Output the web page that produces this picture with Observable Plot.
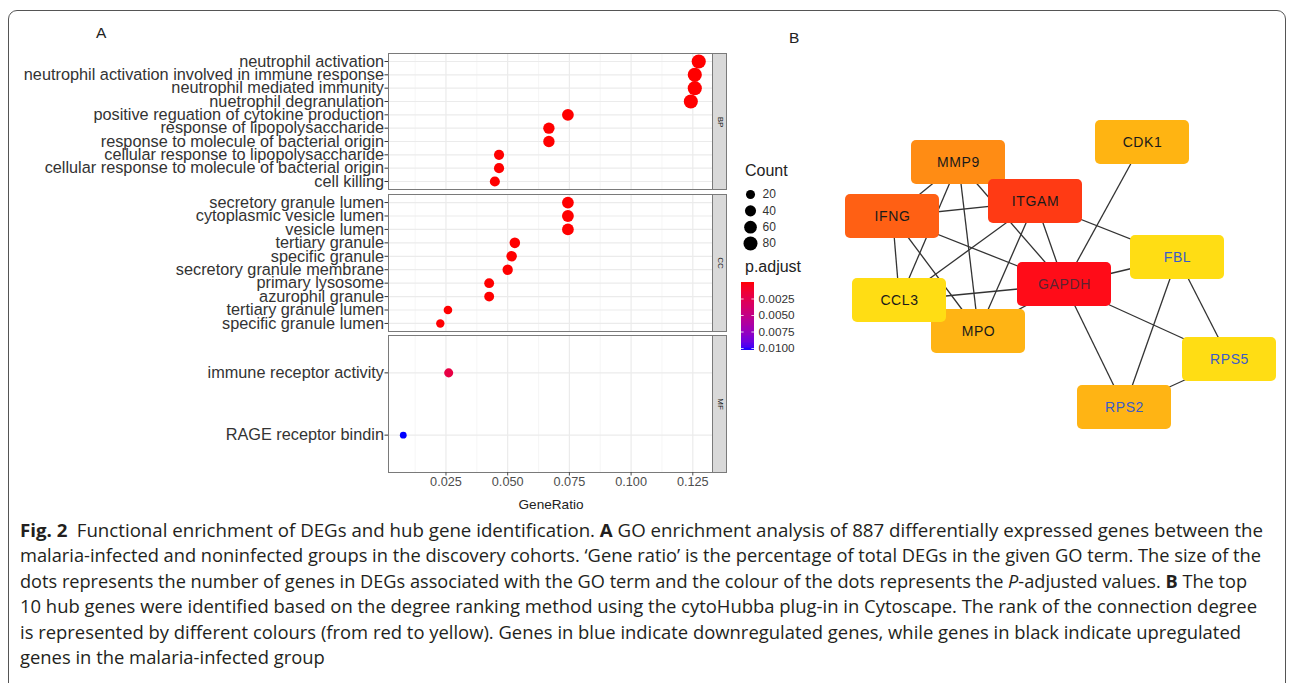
<!DOCTYPE html>
<html><head><meta charset="utf-8">
<script src="https://cdn.jsdelivr.net/npm/d3@7"></script>
<script src="https://cdn.jsdelivr.net/npm/@observablehq/plot@0.6"></script>
<style>
html,body{margin:0;padding:0;background:#fff;}
body{width:1295px;height:683px;overflow:hidden;position:relative;font-family:"Liberation Sans",Arial,sans-serif;color:#222;}
#box{position:absolute;left:8px;top:10px;width:1278px;height:720px;border:1px solid #555;border-radius:9px;box-sizing:border-box;}
.abs{position:absolute;}
.abs svg{display:block;max-width:none;}
.strip{position:absolute;background:#d9d9d9;border:1px solid #7a7a7a;box-sizing:border-box;}
.strip span{position:absolute;left:50%;top:50%;transform:translate(-50%,-50%) rotate(90deg);font-size:8px;color:#1a1a1a;white-space:nowrap;}
.lbl{position:absolute;white-space:nowrap;line-height:1;}
#caption{position:absolute;left:20px;top:518px;font-family:"Open Sans","Noto Sans",sans-serif;font-size:18px;line-height:25.4px;color:#231f20;}
#caption .ln{white-space:nowrap;width:max-content;transform-origin:0 0;}
</style></head>
<body>
<div id="box"></div>
<div class="lbl" style="left:96px;top:25px;font-size:15.5px;">A</div>
<div class="lbl" style="left:789px;top:30px;font-size:15.5px;">B</div>
<div id="bp" class="abs" style="left:0;top:45px;"></div>
<div id="cc" class="abs" style="left:0;top:186px;"></div>
<div id="mf" class="abs" style="left:0;top:327px;"></div>
<div class="strip" style="left:712px;top:53px;width:15px;height:137px;"><span>BP</span></div>
<div class="strip" style="left:712px;top:194px;width:15px;height:138px;"><span>CC</span></div>
<div class="strip" style="left:712px;top:335px;width:15px;height:138px;"><span>MF</span></div>
<div class="lbl" style="left:745px;top:163px;font-size:16px;">Count</div>
<div id="countLegend" class="abs" style="left:735px;top:184px;"></div>
<div class="lbl" style="left:745px;top:259px;font-size:16px;">p.adjust</div>
<div id="colorLegend" class="abs" style="left:735px;top:276px;"></div>
<div id="net" class="abs" style="left:830px;top:100px;"></div>
<div id="caption">
<div class="ln" data-w="1243"><b>Fig. 2</b>&ensp;Functional enrichment of DEGs and hub gene identification. <b>A</b> GO enrichment analysis of 887 differentially expressed genes between the</div>
<div class="ln" data-w="1241">malaria-infected and noninfected groups in the discovery cohorts. ‘Gene ratio’ is the percentage of total DEGs in the given GO term. The size of the</div>
<div class="ln" data-w="1227">dots represents the number of genes in DEGs associated with the GO term and the colour of the dots represents the <i>P</i>-adjusted values. <b>B</b> The top</div>
<div class="ln" data-w="1237">10 hub genes were identified based on the degree ranking method using the cytoHubba plug-in in Cytoscape. The rank of the connection degree</div>
<div class="ln" data-w="1221">is represented by different colours (from red to yellow). Genes in blue indicate downregulated genes, while genes in black indicate upregulated</div>
<div class="ln">genes in the malaria-infected group</div>
</div>
<script>
// ---------- Panel A data ----------
const bpTerms = ["neutrophil activation","neutrophil activation involved in immune response","neutrophil mediated immunity","nuetrophil degranulation","positive reguation of cytokine production","response of lipopolysaccharide","response to molecule of bacterial origin","cellular response to lipopolysaccharide","cellular response to molecule of bacterial origin","cell killing"];
const bpRatio = [0.1274,0.1258,0.1258,0.1242,0.0744,0.0667,0.0667,0.0465,0.0465,0.0448];
const bpCount = [83,82,82,81,48,43,43,30,30,29];
const bpPadj  = [1e-12,1e-12,1e-12,1e-12,2e-8,5e-8,5e-8,3e-6,3e-6,5e-6];

const ccTerms = ["secretory granule lumen","cytoplasmic vesicle lumen","vesicle lumen","tertiary granule","specific granule","secretory granule membrane","primary lysosome","azurophil granule","tertiary granule lumen","specific granule lumen"];
const ccRatio = [0.0744,0.0744,0.0744,0.0529,0.0516,0.0500,0.0425,0.0425,0.0258,0.0227];
const ccCount = [48,48,48,34,33,32,27,27,17,15];
const ccPadj  = [1e-10,1e-10,1e-10,2e-8,3e-8,4e-8,1e-7,1e-7,2e-5,4e-5];

const mfTerms = ["immune receptor activity","RAGE receptor bindin"];
const mfRatio = [0.0261,0.0077];
const mfCount = [20,6];
const mfPadj  = [0.0021,0.0103];

const xMajor = [0.025,0.05,0.075,0.1,0.125];
const xMinor = [0.0125,0.0375,0.0625,0.0875,0.1125];
const countTicks = [20,40,60,80];
const padjTicks = [0.0025,0.005,0.0075,0.01];

// ---------- Panel B data ----------
const genes      = ["CDK1","MMP9","ITGAM","IFNG","FBL","GAPDH","MPO","CCL3","RPS5","RPS2"];
const geneX      = [312,128,205,62,347,234,148,69,399,294];
const geneY      = [42,62,101,116,157,184,231,200,259,307];
const geneFill   = ["#FFB412","#FF8C14","#FF3A14","#FF6014","#FFDD14","#FF0C18","#FFB414","#FFDD14","#FFDD14","#FFB414"];
const geneText   = ["#1a1a1a","#1a1a1a","#1a1a1a","#1a1a1a","#3B5BC8","#5e2330","#1a1a1a","#1a1a1a","#3B5BC8","#3B5BC8"];
const edgeFrom = ["CDK1","ITGAM","GAPDH","GAPDH","GAPDH","FBL","FBL","RPS2","GAPDH","GAPDH","IFNG","ITGAM","MMP9","ITGAM","ITGAM","MMP9","MMP9","MMP9","IFNG","IFNG","IFNG","MMP9","CCL3"];
const edgeTo   = ["GAPDH","FBL","FBL","RPS2","RPS5","RPS2","RPS5","RPS5","CCL3","MPO","GAPDH","GAPDH","GAPDH","CCL3","MPO","IFNG","CCL3","MPO","ITGAM","CCL3","MPO","ITGAM","MPO"];

// ---------- shared scales ----------
const allRatio = [...bpRatio,...ccRatio,...mfRatio];
const allCount = [...bpCount,...ccCount,...mfCount];
const allPadj = [...bpPadj,...ccPadj,...mfPadj];
const [rMin,rMax] = d3.extent(allRatio);
const pad = (rMax-rMin)*0.05;
const xDomain = [rMin-pad, rMax+pad];
const pExt = d3.extent(allPadj);
const colorScale = {type:"linear", domain:pExt, range:["red","blue"], interpolate:d3.interpolateLab};
const rScale = {type:"sqrt", domain:d3.extent(allCount), range:[3.4,7.1]};
const FONT = '"Liberation Sans", Arial, sans-serif';

function facet(terms, ratio, count, padj, height, withX){
  const rows = terms.map((t,i)=>({term:t, ratio:ratio[i], count:count[i], padj:padj[i]}));
  const marks = [
    Plot.ruleX(xMinor, {stroke:"#f2f2f2", strokeWidth:0.7}),
    Plot.ruleX(xMajor, {stroke:"#ebebeb", strokeWidth:1.2}),
    Plot.ruleY(terms, {stroke:"#ebebeb", strokeWidth:1.2}),
    Plot.frame({stroke:"#7a7a7a"}),
    Plot.axisY({tickSize:3.5, tickPadding:1, fontSize:16.3, color:"#333", label:null}),
    Plot.dot(rows, {x:"ratio", y:"term", r:"count", fill:"padj"})
  ];
  if (withX) {
    marks.push(Plot.axisX({ticks:xMajor, tickFormat:d3.format(".3f"), tickSize:3.5, tickPadding:1, fontSize:12.7, color:"#4d4d4d", label:null}));
    marks.push(Plot.text(["GeneRatio"], {text:d=>d, frameAnchor:"bottom", dy:36, fontSize:13.6, fill:"#222"}));
  }
  return Plot.plot({
    width:730, height, marginLeft:388, marginRight:17, marginTop:8, marginBottom: withX?38:8,
    x:{domain:xDomain, axis: withX ? undefined : null},
    y:{type:"point", domain:terms, padding:0.6, round:false},
    r:rScale, color:colorScale,
    style:{fontFamily:FONT, background:"transparent", overflow:"visible"},
    marks
  });
}
document.getElementById("bp").append(facet(bpTerms,bpRatio,bpCount,bpPadj,152,false));
document.getElementById("cc").append(facet(ccTerms,ccRatio,ccCount,ccPadj,153,false));
document.getElementById("mf").append(facet(mfTerms,mfRatio,mfCount,mfPadj,183,true));

// Count legend
document.getElementById("countLegend").append(Plot.plot({
  width:60, height:72, margin:0,
  y:{type:"point", domain:countTicks, range:[10,59], padding:0, round:false, axis:null},
  r:rScale,
  style:{fontFamily:FONT, background:"transparent", overflow:"visible"},
  marks:[
    Plot.dot(countTicks, {y:d=>d, r:d=>d, fill:"black", frameAnchor:"left", dx:15}),
    Plot.text(countTicks, {y:d=>d, text:d=>String(d), frameAnchor:"left", dx:27, textAnchor:"start", fontSize:12, fill:"#333"})
  ]
}));

// Colour bar legend
const nSlices = 40;
const step = (pExt[1]-pExt[0])/nSlices;
const slices = d3.range(nSlices).map(i => pExt[0] + i*step);
document.getElementById("colorLegend").append(Plot.plot({
  width:90, height:80, marginLeft:6, marginRight:71, marginTop:6, marginBottom:6,
  x:{domain:[0,1], axis:null},
  y:{domain:pExt, reverse:true, axis:null},
  color:colorScale,
  style:{fontFamily:FONT, background:"transparent", overflow:"visible"},
  marks:[
    Plot.rect(slices, {x1:()=>0, x2:()=>1, y1:d=>d, y2:d=>Math.min(d+step*1.6, pExt[1]), fill:d=>d+step/2, shapeRendering:"crispEdges"}),
    Plot.ruleY(padjTicks, {x1:()=>0, x2:()=>0.2, stroke:"white", strokeWidth:0.8}),
    Plot.ruleY(padjTicks, {x1:()=>0.8, x2:()=>1, stroke:"white", strokeWidth:0.8}),
    Plot.axisY(padjTicks, {anchor:"right", tickSize:0, tickPadding:4, tickFormat:d3.format(".4f"), fontSize:11.8, color:"#333", label:null})
  ]
}));

// Network
const boxW = 94, boxH = 44;
const nodes = genes.map((g,i)=>({gene:g, x:geneX[i], y:geneY[i], fill:geneFill[i], text:geneText[i]}));
const byName = new Map(nodes.map(n=>[n.gene,n]));
const edges = edgeFrom.map((a,i)=>({a:byName.get(a), b:byName.get(edgeTo[i])}));
document.getElementById("net").append(Plot.plot({
  width:460, height:340, margin:0,
  x:{domain:[0,460], range:[0,460], axis:null},
  y:{domain:[0,340], range:[0,340], axis:null},
  style:{fontFamily:FONT, background:"transparent", overflow:"visible", letterSpacing:"0.6px"},
  marks:[
    Plot.link(edges, {x1:d=>d.a.x, y1:d=>d.a.y, x2:d=>d.b.x, y2:d=>d.b.y, stroke:"#333", strokeWidth:1.3}),
    Plot.rect(nodes, {x1:d=>d.x-boxW/2, x2:d=>d.x+boxW/2, y1:d=>d.y-boxH/2, y2:d=>d.y+boxH/2, fill:d=>d.fill, rx:5}),
    Plot.text(nodes, {x:"x", y:"y", text:"gene", fill:d=>d.text, fontSize:14})
  ]
}));

// Fit caption line widths
const lines = [...document.querySelectorAll("#caption .ln")];
const scales = [];
lines.forEach(l => {
  const target = l.dataset.w;
  if (target) {
    const s = (+target) / l.getBoundingClientRect().width;
    scales.push(s);
    l.style.transform = `scaleX(${s})`;
  }
});
const meanS = d3.mean(scales);
lines.forEach(l => { if (!l.dataset.w) l.style.transform = `scaleX(${meanS})`; });
</script>
</body></html>
